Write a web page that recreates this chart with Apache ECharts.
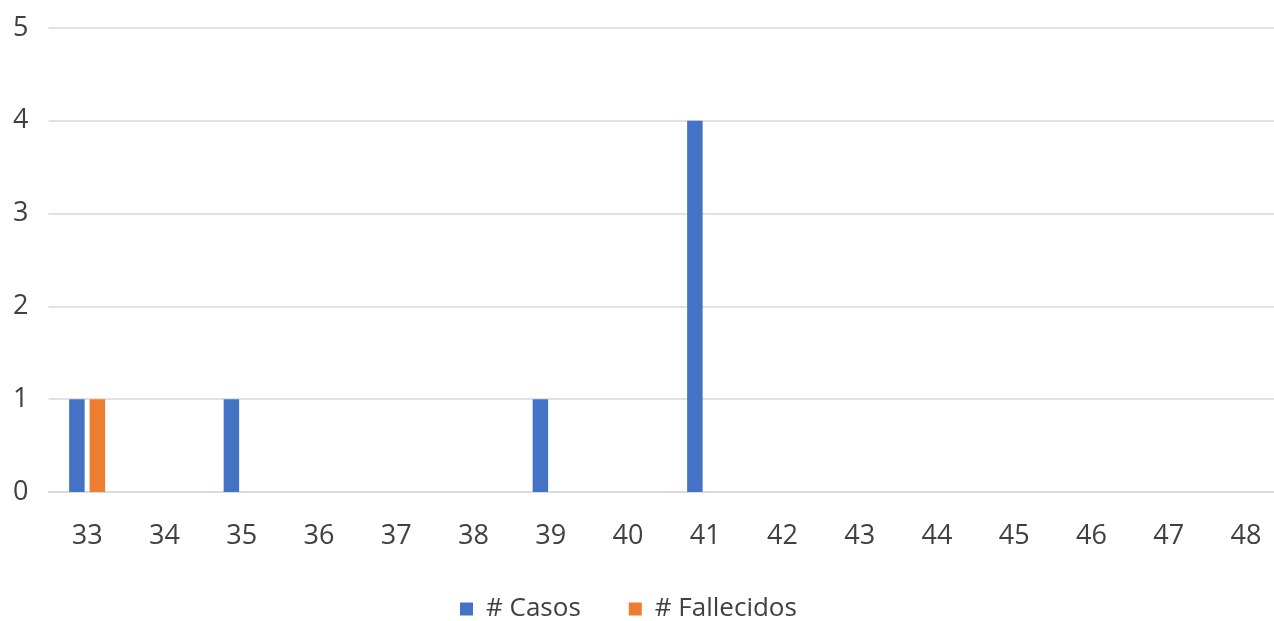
<!DOCTYPE html>
<html>
<head>
<meta charset="utf-8">
<script src="https://cdn.jsdelivr.net/npm/echarts@6/dist/echarts.min.js"></script>
<style>
html,body{margin:0;padding:0;background:#fff;}
#chart{width:1274px;height:621px;}
</style>
</head>
<body>
<div id="chart"></div>
<script>
const categories = ['33','34','35','36','37','38','39','40','41','42','43','44','45','46','47','48'];
const casos = [1,0,1,0,0,0,1,0,4,0,0,0,0,0,0,0];
const fallecidos = [1,0,0,0,0,0,0,0,0,0,0,0,0,0,0,0];
const yTicks = {min:0, max:5, interval:1};

const chart = echarts.init(document.getElementById('chart'), null, {renderer:'canvas'});
const font = '"Open Sans", "Noto Sans", sans-serif';
chart.setOption({
  animation:false,
  backgroundColor:'#ffffff',
  textStyle:{fontFamily:font},
  grid:{left:48.5, width:1236, top:28, bottom:129, containLabel:false, outerBoundsMode:'none'},
  legend:{
    bottom:-6, left:455,
    itemWidth:13, itemHeight:13, itemGap:48,
    icon:'rect',
    textStyle:{fontSize:26, color:'#404040', fontFamily:font, padding:[0,0,0,8]},
    data:['# Casos','# Fallecidos']
  },
  xAxis:{
    type:'category',
    data:categories,
    axisLine:{lineStyle:{color:'#D9D9D9', width:1.5}},
    axisTick:{show:false},
    axisLabel:{fontSize:27, color:'#404040', margin:31, fontFamily:font}
  },
  yAxis:{
    type:'value',
    min:yTicks.min, max:yTicks.max, interval:yTicks.interval,
    axisLine:{show:false},
    axisTick:{show:false},
    splitLine:{lineStyle:{color:'#D9D9D9', width:1.5}},
    axisLabel:{fontSize:27, color:'#404040', margin:20, fontFamily:font}
  },
  series:[
    {name:'# Casos', type:'bar', data:casos, barWidth:15.5, barGap:'32%', itemStyle:{color:'#4472C4'}},
    {name:'# Fallecidos', type:'bar', data:fallecidos, barWidth:15.5, barGap:'32%', itemStyle:{color:'#ED7D31'}}
  ]
});
</script>
</body>
</html>
